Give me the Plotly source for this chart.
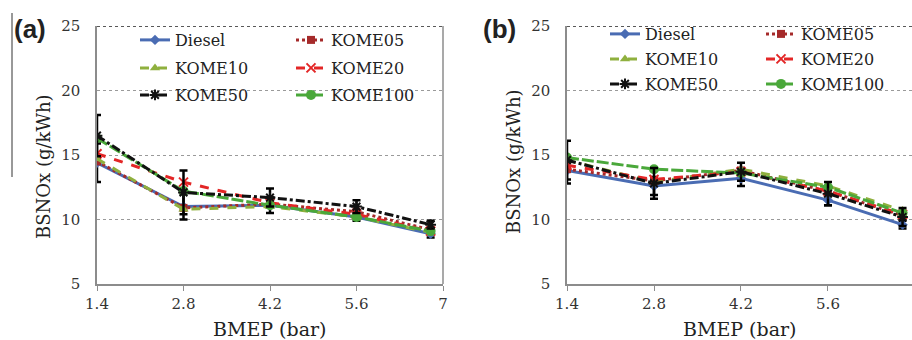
import plotly.graph_objects as go

bmep = [1.4, 2.8, 4.2, 5.6, 6.8]
tick_vals = [1.4, 2.8, 4.2, 5.6, 7.0]
tick_text = ["1.4", "2.8", "4.2", "5.6", "7"]
y_ticks = [5, 10, 15, 20, 25]

names = ["Diesel", "KOME05", "KOME10", "KOME20", "KOME50", "KOME100"]

a_diesel = [14.4, 11.0, 11.1, 10.2, 8.9]
a_kome05 = [14.5, 10.9, 11.2, 10.6, 9.2]
a_kome10 = [14.7, 10.8, 11.0, 10.2, 9.0]
a_kome20 = [15.1, 12.9, 11.3, 10.4, 9.1]
a_kome50 = [16.5, 12.1, 11.7, 11.0, 9.6]
a_kome100 = [16.3, 12.2, 11.1, 10.2, 9.1]
a_err_diesel = [1.5, 1.0, 0.6, 0.3, 0.3]
a_err_kome50 = [1.6, 1.7, 0.7, 0.5, 0.3]

b_diesel = [13.8, 12.6, 13.2, 11.5, 9.6]
b_kome05 = [13.9, 13.0, 13.8, 12.2, 10.3]
b_kome10 = [14.6, 12.9, 13.9, 12.6, 10.7]
b_kome20 = [14.2, 13.1, 13.7, 12.2, 10.4]
b_kome50 = [14.6, 12.8, 13.7, 12.0, 10.2]
b_kome100 = [14.8, 13.9, 13.6, 12.5, 10.5]
b_err_diesel = [1.0, 0.7, 0.6, 0.4, 0.3]
b_err_kome50 = [1.5, 1.2, 0.7, 0.9, 0.7]

styles = {
    "Diesel": dict(color="#4a6cb3", dash="solid", symbol="diamond", msize=8),
    "KOME05": dict(color="#a52a2a", dash="dot", symbol="square", msize=8),
    "KOME10": dict(color="#8fb03e", dash="dash", symbol="triangle-up", msize=9),
    "KOME20": dict(color="#e32626", dash="dash", symbol="x-thin-open", msize=9),
    "KOME50": dict(color="#111111", dash="dashdot", symbol="asterisk-open", msize=9),
    "KOME100": dict(color="#4aa83a", dash="12px,3px", symbol="circle", msize=10),
}
legend_rows = {"Diesel": 0, "KOME05": 0, "KOME10": 1, "KOME20": 1, "KOME50": 2, "KOME100": 2}
legend_rank = {"Diesel": 1, "KOME05": 2, "KOME10": 1, "KOME20": 2, "KOME50": 1, "KOME100": 2}

SERIF = "DejaVu Serif"
fig = go.Figure()

panels = [
    ("x", "y", {"Diesel": a_diesel, "KOME05": a_kome05, "KOME10": a_kome10,
                "KOME20": a_kome20, "KOME50": a_kome50, "KOME100": a_kome100},
     {"Diesel": a_err_diesel, "KOME50": a_err_kome50}, 0),
    ("x2", "y2", {"Diesel": b_diesel, "KOME05": b_kome05, "KOME10": b_kome10,
                  "KOME20": b_kome20, "KOME50": b_kome50, "KOME100": b_kome100},
     {"Diesel": b_err_diesel, "KOME50": b_err_kome50}, 3),
]

order = ["Diesel", "KOME05", "KOME10", "KOME20", "KOME100", "KOME50"]
for xa, ya, data, errs, loff in panels:
    for nm in order:
        st = styles[nm]
        lg_idx = legend_rows[nm] + loff + 1
        lg = "legend" if lg_idx == 1 else f"legend{lg_idx}"
        err = None
        if nm in errs:
            err = dict(type="data", array=errs[nm], visible=True, color="black",
                       thickness=2.5, width=4)
        fig.add_trace(go.Scatter(
            x=bmep, y=data[nm], name=nm, mode="lines+markers",
            xaxis=xa, yaxis=ya, legend=lg, legendrank=legend_rank[nm],
            line=dict(color=st["color"], dash=st["dash"], width=3),
            marker=dict(symbol=st["symbol"], size=st["msize"], color=st["color"],
                        line=dict(color=st["color"], width=2 if "open" in st["symbol"] else 0)),
            error_y=err,
        ))

H = 340
W = 912
axis_common = dict(
    showline=True, linecolor="#8c8c8c", linewidth=1.5, automargin=False,
    tickfont=dict(family=SERIF, size=15, color="#333333"),
    zeroline=False,
)
fig.update_layout(
    width=W, height=H, margin=dict(l=0, r=0, t=0, b=0, autoexpand=False),
    paper_bgcolor="white", plot_bgcolor="white",
    xaxis=dict(domain=[97 / W, 443 / W], range=[1.4, 7.0], tickvals=tick_vals, ticktext=tick_text,
               ticks="outside", ticklen=5, tickcolor="#8c8c8c", showgrid=False, anchor="y",
               ticklabelstandoff=0, **axis_common),
    yaxis=dict(domain=[1 - 284 / H, 1 - 26 / H], range=[5, 25], tickvals=y_ticks,
               showgrid=True, gridcolor="#9a9a9a", griddash="dot", gridwidth=1, anchor="x",
               ticklabelstandoff=12, **axis_common),
    xaxis2=dict(domain=[567 / W, 1.0], range=[1.4, 6.952], tickvals=tick_vals, ticktext=tick_text,
                ticks="outside", ticklen=5, tickcolor="#8c8c8c", showgrid=False, anchor="y2",
                ticklabelstandoff=0, **axis_common),
    yaxis2=dict(domain=[1 - 284 / H, 1 - 26 / H], range=[5, 25], tickvals=y_ticks,
                showgrid=True, gridcolor="#9a9a9a", griddash="dot", gridwidth=1, anchor="x2",
                ticklabelstandoff=12, **axis_common),
    showlegend=True,
)

leg_font = dict(family=SERIF, size=16, color="#222222")
rows_a = [40, 68, 95]
rows_b = [34, 59, 84]
for i in range(6):
    key = "legend" if i == 0 else f"legend{i + 1}"
    if i < 3:
        px, py = 135, rows_a[i]
    else:
        px, py = 605, rows_b[i - 3]
    fig.update_layout({key: dict(
        orientation="h", x=px / W, y=1 - py / H, xanchor="left", yanchor="middle",
        bgcolor="rgba(0,0,0,0)", font=leg_font, entrywidth=111, entrywidthmode="pixels",
        traceorder="normal", itemclick=False, itemdoubleclick=False,
    )})

shapes = [
    dict(type="line", xref="x domain", yref="y", x0=0, x1=1, y0=25, y1=25,
         line=dict(color="#222222", width=1.5, dash="dot")),
    dict(type="line", xref="x2 domain", yref="y2", x0=0, x1=1, y0=25, y1=25,
         line=dict(color="#222222", width=1.5, dash="dot")),
    dict(type="line", xref="x domain", yref="y domain", x0=1, x1=1, y0=0, y1=1,
         line=dict(color="#8c8c8c", width=1.5)),
    dict(type="line", xref="paper", yref="paper", x0=12 / W, x1=12 / W, y0=1 - 177 / H, y1=1 - 13 / H,
         line=dict(color="#333333", width=1)),
]
fig.update_layout(shapes=shapes)


def ann(text, px, py, size, family, angle=0):
    return dict(text=text, x=px / W, y=1 - py / H, xref="paper", yref="paper", showarrow=False,
                xanchor="center", yanchor="middle", textangle=angle,
                font=dict(family=family, size=size, color="#111111" if "(" in text[:2] else "#222222"))


annotations = [
    ann("<b>(a)</b>", 30, 29, 26, "Liberation Sans"),
    ann("<b>(b)</b>", 499, 29, 26, "Liberation Sans"),
    ann("BSNOx (g/kWh)", 43, 167, 18, SERIF, -90),
    ann("BSNOx (g/kWh)", 513, 162, 18, SERIF, -90),
    ann("BMEP (bar)", 270, 329, 19, SERIF),
    ann("BMEP (bar)", 740, 329, 19, SERIF),
]
fig.update_layout(annotations=annotations)

fig.write_html("out.html")
